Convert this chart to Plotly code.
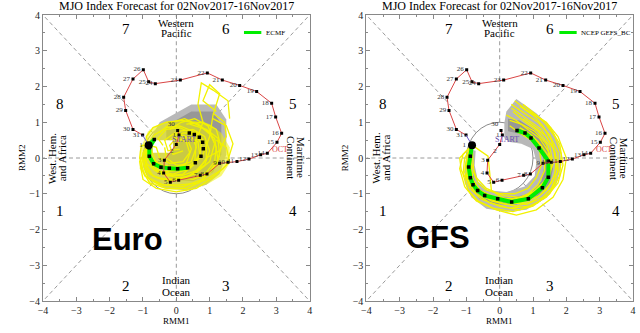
import numpy as np
import plotly.graph_objects as go

# ---------------- data ----------------
# observed RMM trajectory (same in both panels)
obs_rmm1 = [0.04, 0.08, 0.00, -0.36, -0.38, -0.18, 0.07, 0.72, 0.92, 1.30, 1.55, 1.82, 2.18, 2.53, 2.73,
            3.02, 3.16, 2.98, 2.86, 2.41, 1.90, 1.38, 0.93, 0.12, -0.63, -0.83, -0.99, -1.30, -1.58, -1.52,
            -1.30, -1.01, -0.83]
obs_rmm2 = [0.77, 0.64, 0.38, -0.06, -0.42, -0.68, -0.62, -0.48, -0.45, -0.15, -0.12, -0.10, -0.03, 0.09, 0.13,
            0.44, 0.69, 1.15, 1.53, 1.86, 2.03, 2.18, 2.38, 2.18, 2.08, 2.13, 2.47, 2.21, 1.70, 1.33,
            0.80, 0.64, 0.36]
obs_day = ["30", "1", "2", "3", "4", "5", "6", "7", "8", "9", "10", "11", "12", "13", "14", "15", "16", "17",
           "18", "19", "20", "21", "22", "23", "24", "25", "26", "27", "28", "29", "30", "31", "1"]

# ECMF ensemble mean forecast
ecmf_mean_rmm1 = [-0.83, -0.66, -0.81, -0.81, -0.68, -0.46, -0.21, 0.04, 0.34, 0.57, 0.74, 0.81, 0.79, 0.69, 0.54, 0.39]
ecmf_mean_rmm2 = [0.36, 0.52, 0.29, 0.05, -0.16, -0.26, -0.29, -0.30, -0.27, -0.13, 0.05, 0.26, 0.44, 0.58, 0.66, 0.70]
ecmf_green_days = 9

# NCEP GEFS_BC ensemble mean forecast
gefs_mean_rmm1 = [-0.83, -0.88, -0.93, -0.88, -0.80, -0.66, -0.45, -0.06, 0.36, 0.86, 1.28, 1.46, 1.46, 1.18, 0.94, 0.76, 0.52]
gefs_mean_rmm2 = [0.36, 0.05, -0.25, -0.55, -0.75, -0.91, -1.05, -1.14, -1.23, -1.14, -0.83, -0.54, -0.09, 0.28, 0.56, 0.70, 0.77]
gefs_green_days = 17

# ECMF ensemble members (rmm1, rmm2)
ecmf_m01 = [(-0.83,0.36),(-0.95,0.0),(-0.9,-0.35),(-0.6,-0.55),(-0.1,-0.6),(0.4,-0.5),(0.85,-0.2),(1.0,0.2),(0.85,0.6),(0.5,0.8),(0.1,0.75),(-0.2,0.5)]
ecmf_m02 = [(-0.83,0.36),(-0.7,0.1),(-0.6,-0.15),(-0.3,-0.3),(0.1,-0.35),(0.5,-0.2),(0.7,0.1),(0.65,0.45),(0.4,0.6),(0.1,0.5),(-0.05,0.3)]
ecmf_m03 = [(-0.83,0.36),(-1.0,-0.1),(-0.85,-0.55),(-0.4,-0.75),(0.2,-0.8),(0.8,-0.6),(1.2,-0.2),(1.35,0.3),(1.2,0.8),(0.8,1.0),(0.3,0.95)]
ecmf_m04 = [(-0.83,0.36),(-0.8,-0.05),(-0.55,-0.35),(-0.1,-0.45),(0.4,-0.3),(0.8,0.1),(1.0,0.6),(1.1,1.2),(1.3,1.8),(1.0,2.05),(0.8,1.6),(1.2,1.3)]
ecmf_m05 = [(-0.83,0.36),(-0.9,-0.2),(-0.7,-0.5),(-0.2,-0.65),(0.3,-0.55),(0.7,-0.3),(0.9,0.0),(1.3,0.2),(1.5,0.6),(1.45,1.0),(1.1,1.25)]
ecmf_m06 = [(-0.83,0.36),(-0.6,0.3),(-0.5,0.0),(-0.2,-0.15),(0.2,-0.1),(0.4,0.15),(0.3,0.45),(0.0,0.55),(-0.2,0.35),(-0.1,0.1),(0.2,0.2)]
ecmf_m07 = [(-0.83,0.36),(-1.0,0.15),(-1.05,-0.3),(-0.8,-0.7),(-0.3,-0.85),(0.3,-0.85),(0.9,-0.6),(1.4,-0.3),(1.6,-0.1),(1.5,0.3),(1.2,0.5)]
ecmf_m08 = [(-0.83,0.36),(-0.85,0.0),(-0.65,-0.35),(-0.25,-0.5),(0.2,-0.45),(0.55,-0.15),(0.6,0.5),(0.8,1.0),(0.65,1.5),(0.75,2.1),(1.1,1.9),(1.55,1.6),(1.6,1.1)]
ecmf_m09 = [(-0.83,0.36),(-0.75,0.0),(-0.45,-0.2),(0.0,-0.25),(0.45,-0.1),(0.6,0.3),(0.45,0.7),(0.1,0.85),(-0.3,0.8),(-0.55,0.55),(-0.4,0.35)]
ecmf_m10 = [(-0.83,0.36),(-0.95,-0.05),(-0.8,-0.45),(-0.45,-0.6),(0.0,-0.6),(0.55,-0.45),(1.0,-0.1),(1.15,0.4),(0.95,0.9),(0.55,1.1),(0.15,1.0),(-0.2,0.8)]
ecmf_m11 = [(-0.83,0.36),(-0.85,0.05),(-0.7,-0.3),(-0.35,-0.45),(0.15,-0.5),(0.6,-0.35),(0.9,-0.05),(0.9,0.4),(0.6,0.7),(0.2,0.7),(-0.1,0.55)]
ecmf_m12 = [(-0.83,0.36),(-1.1,-0.1),(-1.0,-0.6),(-0.6,-0.85),(0.0,-0.95),(0.6,-0.85),(1.1,-0.55),(1.5,-0.2),(1.7,0.4),(1.5,0.9),(1.1,1.1)]
ecmf_m13 = [(-0.83,0.36),(-0.65,0.65),(-0.3,0.85),(0.1,0.9),(0.5,0.75),(0.75,0.4),(0.7,0.0),(0.4,-0.2),(0.0,-0.2),(-0.3,0.0),(-0.35,0.3)]
ecmf_m14 = [(-0.83,0.36),(-0.9,0.6),(-0.7,0.85),(-0.3,1.0),(0.2,1.05),(0.65,0.95),(1.0,0.7),(1.2,0.3),(1.15,-0.1),(0.9,-0.4),(0.5,-0.55)]
ecmf_m15 = [(-0.83,0.36),(-1.05,0.35),(-1.1,0.0),(-0.95,-0.5),(-0.5,-0.75),(0.1,-0.75),(0.65,-0.7),(1.05,-0.35),(1.3,0.05),(1.25,0.55),(0.9,0.8),(0.4,0.95)]
ecmf_m16 = [(-0.83,0.36),(-0.7,-0.15),(-0.45,-0.45),(0.05,-0.55),(0.5,-0.6),(0.95,-0.45),(1.25,-0.05),(1.15,0.55),(0.7,0.9),(0.25,1.1),(-0.15,1.0),(-0.5,0.7)]
ecmf_m17 = [(-0.83,0.36),(-0.95,0.2),(-0.9,-0.15),(-0.55,-0.4),(-0.05,-0.35),(0.3,-0.15),(0.45,0.25),(0.3,0.6),(-0.05,0.7),(-0.35,0.5),(-0.25,0.2),(0.1,0.25)]
ecmf_members = [ecmf_m01, ecmf_m02, ecmf_m03, ecmf_m04, ecmf_m05, ecmf_m06, ecmf_m07, ecmf_m08, ecmf_m09,
                ecmf_m10, ecmf_m11, ecmf_m12, ecmf_m13, ecmf_m14, ecmf_m15, ecmf_m16, ecmf_m17]

# GEFS ensemble members
gefs_m01 = [(-0.83,0.36),(-0.9,0.0),(-0.95,-0.35),(-0.85,-0.7),(-0.6,-0.95),(-0.2,-1.15),(0.3,-1.25),(0.8,-1.15),(1.25,-0.85),(1.5,-0.45),(1.5,0.0),(1.25,0.35),(0.95,0.65),(0.6,0.85)]
gefs_m02 = [(-0.83,0.36),(-1.05,0.0),(-1.1,-0.45),(-0.95,-0.9),(-0.65,-1.2),(-0.2,-1.4),(0.4,-1.5),(1.0,-1.35),(1.5,-1.0),(1.8,-0.5),(1.85,0.1),(1.65,0.6),(1.3,1.05),(0.8,1.35),(0.45,1.6)]
gefs_m03 = [(-0.83,0.36),(-0.8,0.0),(-0.78,-0.4),(-0.65,-0.7),(-0.4,-0.9),(0.0,-1.0),(0.45,-1.0),(0.85,-0.85),(1.1,-0.55),(1.25,-0.2),(1.2,0.2),(0.95,0.5),(0.6,0.7),(0.3,0.9)]
gefs_m04 = [(-0.83,0.36),(-0.95,-0.1),(-0.9,-0.55),(-0.75,-0.85),(-0.45,-1.1),(0.0,-1.25),(0.5,-1.35),(1.0,-1.2),(1.4,-0.9),(1.65,-0.5),(1.7,0.0),(1.55,0.5),(1.3,0.9),(1.0,1.2),(0.6,1.45)]
gefs_m05 = [(-0.83,0.36),(-1.2,0.0),(-1.15,-0.35),(-0.9,-0.75),(-0.5,-1.05),(0.1,-1.2),(0.6,-1.1),(1.0,-0.95),(1.35,-0.65),(1.55,-0.25),(1.45,0.2),(1.2,0.55),(0.85,0.8),(0.5,1.05),(0.2,1.2)]
gefs_m06 = [(-0.83,0.36),(-0.85,-0.15),(-0.7,-0.55),(-0.4,-0.85),(0.1,-1.05),(0.6,-1.1),(1.1,-0.95),(1.45,-0.6),(1.6,-0.15),(1.5,0.35),(1.15,0.75),(0.7,1.05),(0.4,1.3)]
gefs_m07 = [(-0.83,0.36),(-1.0,-0.2),(-0.95,-0.7),(-0.7,-1.0),(-0.3,-1.25),(0.3,-1.4),(0.9,-1.35),(1.4,-1.1),(1.75,-0.7),(1.9,-0.2),(1.8,0.4),(1.5,0.85),(1.1,1.2),(0.7,1.5)]
gefs_m08 = [(-0.83,0.36),(-0.9,0.1),(-0.85,-0.3),(-0.8,-0.65),(-0.55,-0.95),(-0.15,-1.1),(0.35,-1.15),(0.8,-1.05),(1.15,-0.75),(1.35,-0.35),(1.35,0.1),(1.15,0.45),(0.85,0.65),(0.55,0.7)]
gefs_m09 = [(-0.83,0.36),(-1.1,0.1),(-1.2,-0.3),(-1.05,-0.8),(-0.7,-1.2),(-0.1,-1.45),(0.5,-1.6),(1.1,-1.45),(1.6,-1.1),(1.9,-0.6),(2.0,0.0),(1.75,0.6),(1.4,1.0),(0.9,1.3)]
gefs_m10 = [(-0.83,0.36),(-0.92,-0.05),(-1.0,-0.5),(-0.85,-0.8),(-0.6,-1.0),(-0.25,-1.2),(0.2,-1.3),(0.7,-1.25),(1.2,-1.05),(1.55,-0.7),(1.7,-0.3),(1.65,0.2),(1.4,0.6),(1.0,0.9),(0.7,1.1)]
gefs_m11 = [(-0.83,0.36),(-0.35,0.05),(-0.3,-0.4),(-0.25,-0.9),(0.2,-1.2),(0.8,-1.3),(1.3,-1.1),(1.6,-0.8),(1.75,-0.35),(1.6,0.3),(1.25,0.8),(0.8,1.1),(0.35,1.4)]
gefs_m12 = [(-0.83,0.36),(-0.98,0.05),(-1.05,-0.4),(-0.9,-0.85),(-0.55,-1.15),(0.0,-1.35),(0.6,-1.45),(1.15,-1.25),(1.55,-0.85),(1.75,-0.4),(1.75,0.15),(1.5,0.65),(1.15,1.0),(0.75,1.25),(0.35,1.5)]
gefs_m13 = [(-0.83,0.36),(-0.88,-0.2),(-0.8,-0.6),(-0.6,-0.9),(-0.25,-1.05),(0.25,-1.15),(0.75,-1.1),(1.15,-0.9),(1.45,-0.5),(1.55,-0.05),(1.4,0.4),(1.05,0.75),(0.65,0.95),(0.3,1.05)]
gefs_members = [gefs_m01, gefs_m02, gefs_m03, gefs_m04, gefs_m05, gefs_m06, gefs_m07,
                gefs_m08, gefs_m09, gefs_m10, gefs_m11, gefs_m12, gefs_m13]

# spread shading polygons
ecmf_spread_outer = [(-0.5,1.0),(0.45,1.5),(1.2,1.5),(1.5,1.08),(1.5,0.1),(1.3,-0.45),(0.9,-0.75),(0.3,-0.9),
                     (-0.3,-0.85),(-0.75,-0.65),(-1.0,-0.25),(-1.0,0.15),(-0.8,0.5)]
ecmf_spread_inner = [(-0.3,0.9),(0.45,1.3),(1.1,1.3),(1.35,0.95),(1.35,0.1),(1.1,-0.4),(0.5,-0.65),(-0.2,-0.6),
                     (-0.3,0.2)]
ecmf_envelope = [(-0.85,0.75),(-0.5,0.95),(0.0,1.05),(0.5,1.05),(1.0,0.95),(1.35,0.7),(1.6,0.3),(1.6,-0.15),
                 (1.35,-0.5),(0.9,-0.75),(0.3,-0.92),(-0.3,-0.88),(-0.8,-0.7),(-1.1,-0.3),(-1.1,0.2)]
ecmf_clear = [(-0.7,0.5),(-0.1,0.5),(-0.1,0.15),(-0.7,0.15)]
gefs_spread_outer = [(-0.95,0.25),(-1.05,-0.2),(-1.05,-0.7),(-0.85,-1.1),(-0.4,-1.42),(0.2,-1.5),(0.8,-1.45),
                     (1.35,-1.15),(1.7,-0.75),(1.85,-0.2),(1.8,0.35),(1.55,0.85),(1.1,1.25),(0.5,1.65),
                     (0.2,1.3),(0.14,0.98),(0.14,0.55),(0.3,0.45),(0.65,0.4),(1.0,0.25),(1.1,-0.1),(1.05,-0.5),
                     (0.75,-0.8),(0.2,-0.95),(-0.35,-0.9),(-0.65,-0.65),(-0.75,-0.2),(-0.72,0.2)]
gefs_spread_inner = [(0.25,1.1),(0.6,1.05),(1.1,0.75),(1.5,0.2),(1.6,-0.3),(1.5,-0.75),(1.1,-1.1),(0.5,-1.3),
                     (-0.1,-1.3),(-0.6,-1.15),(-0.9,-0.8),(-0.95,-0.4),(-0.8,-0.45),(-0.7,-0.8),(-0.3,-1.05),
                     (0.3,-1.12),(0.9,-1.0),(1.25,-0.65),(1.35,-0.2),(1.25,0.2),(0.9,0.55),(0.5,0.7),(0.25,0.75)]

phase_labels = ["1", "2", "3", "4", "5", "6", "7", "8"]
phase_pos = [(-3.5, -1.47), (-1.52, -3.59), (1.5, -3.59), (3.5, -1.47), (3.5, 1.52), (1.5, 3.61), (-1.52, 3.61), (-3.5, 1.52)]
tick_vals = [-4, -3, -2, -1, 0, 1, 2, 3, 4]
title_text = "MJO Index Forecast for 02Nov2017-16Nov2017"

# --------------- figure ---------------
SERIF = "Liberation Serif"
YELLOW = "#F2F200"
RED = "#D94545"
GRID = "#9A9A9A"

fig = go.Figure()

panels = [
    dict(xa="x", ya="y", members=ecmf_members, mx=ecmf_mean_rmm1, my=ecmf_mean_rmm2, ng=ecmf_green_days,
         outer=ecmf_spread_outer, inner=ecmf_spread_inner, env=ecmf_envelope, clear=ecmf_clear, legend="ECMF",
         big="Euro", bigpos=(-1.46, -2.28)),
    dict(xa="x2", ya="y2", members=gefs_members, mx=gefs_mean_rmm1, my=gefs_mean_rmm2, ng=gefs_green_days,
         outer=gefs_spread_outer, inner=gefs_spread_inner, env=None, clear=None, legend="NCEP GEFS_BC",
         big="GFS", bigpos=(-1.85, -2.22)),
]

annotations = []
shapes = []
label_pos = ["top left", "middle left", "bottom left"] + ["middle left"] * (len(obs_day) - 3)


def closed(poly):
    px_, py_ = zip(*poly)
    return list(px_) + [px_[0]], list(py_) + [py_[0]]


for p in panels:
    xa, ya = p["xa"], p["ya"]
    xref, yref = xa, ya
    xdom, ydom = xa + " domain", ya + " domain"
    # dashed guide lines outside unit circle
    for ang in np.arange(0, 360, 45):
        a = np.deg2rad(ang)
        r_out = 4 / max(abs(np.cos(a)), abs(np.sin(a)))
        shapes.append(dict(type="line", xref=xref, yref=yref, x0=np.cos(a), y0=np.sin(a),
                           x1=r_out * np.cos(a), y1=r_out * np.sin(a),
                           line=dict(color=GRID, width=1, dash="4px,3px"), layer="below"))
    shapes.append(dict(type="circle", xref=xref, yref=yref, x0=-1, y0=-1, x1=1, y1=1,
                       line=dict(color="#8A8A8A", width=1), layer="below"))

    # spread shading
    sx, sy = closed(p["outer"])
    fig.add_trace(go.Scatter(x=sx, y=sy, fill="toself", mode="lines", fillcolor="#B8B8B8",
                             line=dict(width=0), xaxis=xa, yaxis=ya, hoverinfo="skip"))
    sx, sy = closed(p["inner"])
    fig.add_trace(go.Scatter(x=sx, y=sy, fill="toself", mode="lines", fillcolor="#979797",
                             line=dict(width=0), xaxis=xa, yaxis=ya, hoverinfo="skip"))
    if p["env"] is not None:
        sx, sy = closed(p["env"])
        fig.add_trace(go.Scatter(x=sx, y=sy, fill="toself", mode="lines", fillcolor="rgba(242,242,0,0.55)",
                                 line=dict(width=0), xaxis=xa, yaxis=ya, hoverinfo="skip"))
    if p["clear"] is not None:
        sx, sy = closed(p["clear"])
        fig.add_trace(go.Scatter(x=sx, y=sy, fill="toself", mode="lines", fillcolor="white",
                                 line=dict(width=0), xaxis=xa, yaxis=ya, hoverinfo="skip"))
    # ensemble members
    for m in p["members"]:
        mx, my = zip(*m)
        fig.add_trace(go.Scatter(x=mx, y=my, mode="lines", line=dict(color=YELLOW, width=1.3),
                                 xaxis=xa, yaxis=ya, hoverinfo="skip"))
    # ensemble mean
    ng = p["ng"]
    fig.add_trace(go.Scatter(x=p["mx"][:ng], y=p["my"][:ng], mode="lines", line=dict(color="#00EE00", width=4),
                             xaxis=xa, yaxis=ya, hoverinfo="skip"))
    fig.add_trace(go.Scatter(x=p["mx"][1:], y=p["my"][1:], mode="markers",
                             marker=dict(color="black", size=3.5, symbol="square"),
                             xaxis=xa, yaxis=ya, hoverinfo="skip"))
    # observed
    fig.add_trace(go.Scatter(x=obs_rmm1[:-1], y=obs_rmm2[:-1], mode="lines+markers+text",
                             line=dict(color=RED, width=1), marker=dict(color="black", size=3, symbol="square"),
                             text=obs_day[:-1], textposition=label_pos[:-1],
                             textfont=dict(family=SERIF, size=7, color="#333"),
                             xaxis=xa, yaxis=ya, hoverinfo="skip"))
    fig.add_trace(go.Scatter(x=obs_rmm1[-2:], y=obs_rmm2[-2:], mode="lines", line=dict(color="#6A5ACD", width=1),
                             xaxis=xa, yaxis=ya, hoverinfo="skip"))
    fig.add_trace(go.Scatter(x=obs_rmm1[-1:], y=obs_rmm2[-1:], mode="markers+text",
                             marker=dict(color="black", size=8), text=obs_day[-1:], textposition="middle left",
                             textfont=dict(family=SERIF, size=7, color="#333"),
                             xaxis=xa, yaxis=ya, hoverinfo="skip"))

    def ann(x, y, text, size, color="black", family=SERIF, angle=0, xanchor="center", bold=False):
        annotations.append(dict(x=(x + 4) / 8, y=(y + 4) / 8, xref=xdom, yref=ydom,
                                text=("<b>%s</b>" % text) if bold else text,
                                showarrow=False, textangle=angle, xanchor=xanchor, yanchor="middle",
                                font=dict(family=family, size=size, color=color)))

    ann(0, 4.25, title_text, 12)
    for lab, (px_, py_) in zip(phase_labels, phase_pos):
        ann(px_, py_, lab, 15)
    ann(0, 3.79, "Western", 11)
    ann(0, 3.49, "Pacific", 11)
    ann(0, -3.42, "Indian", 11)
    ann(0, -3.74, "Ocean", 11)
    ann(-3.72, 0, "West. Hem.", 11, angle=-90)
    ann(-3.42, 0, "and Africa", 11, angle=-90)
    ann(3.74, 0, "Maritime", 11, angle=90)
    ann(3.44, 0, "Continent", 11, angle=90)
    ann(0, -4.57, "RMM1", 9)
    ann(-4.63, 0, "RMM2", 9, angle=-90)
    ann(0.22, 0.52, "START", 8, color="#6A4FB0")
    ann(3.12, 0.25, "OCT", 8, color=RED)
    ann(p["bigpos"][0], p["bigpos"][1], p["big"], 31, family="Liberation Sans", bold=True)
    # legend sample
    lx0 = 2.03 if p["legend"] == "ECMF" else 1.79
    shapes.append(dict(type="line", xref=xref, yref=yref, x0=lx0, x1=lx0 + 0.52, y0=3.51, y1=3.51,
                       line=dict(color="#00EE00", width=3)))
    ann(lx0 + 0.6, 3.51, p["legend"], 7, xanchor="left")

axis_common = dict(range=[-4, 4], tickvals=tick_vals, ticks="inside", ticklen=4, tickcolor="#888",
                   showline=True, linecolor="#888", linewidth=1, mirror="ticks", showgrid=False, zeroline=False,
                   tickfont=dict(family=SERIF, size=10, color="#222"),
                   minor=dict(dtick=0.5, tick0=0, ticks="inside", ticklen=2, tickcolor="#888"),
                   fixedrange=True)

fig.update_layout(
    width=640, height=333, margin=dict(l=43, r=4, t=15, b=32),
    plot_bgcolor="white", paper_bgcolor="white", showlegend=False,
    font=dict(family=SERIF),
    xaxis=dict(domain=[0, 268 / 593], anchor="y", **axis_common),
    yaxis=dict(domain=[0, 1], anchor="x", **axis_common),
    xaxis2=dict(domain=[325 / 593, 1], anchor="y2", **axis_common),
    yaxis2=dict(domain=[0, 1], anchor="x2", **axis_common),
    shapes=shapes, annotations=annotations,
)

fig.write_html("out.html")
